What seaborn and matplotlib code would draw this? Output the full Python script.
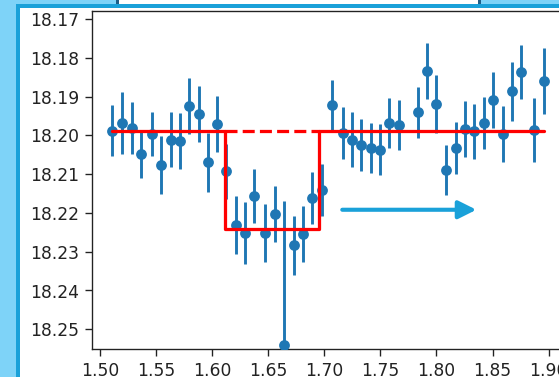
import numpy as np
import pandas as pd
import matplotlib
matplotlib.use("Agg")
import matplotlib.pyplot as plt
from matplotlib.patches import Rectangle
import seaborn as sns

# Photometry of the transit: time, magnitude and 1-sigma uncertainty
time = [1.5110, 1.5199, 1.5283, 1.5366, 1.5464, 1.5547, 1.5633, 1.5716, 1.5797,
        1.5880, 1.5963, 1.6044, 1.6127, 1.6213, 1.6294, 1.6377, 1.6475, 1.6561,
        1.6644, 1.6728, 1.6811, 1.6891, 1.6978, 1.7070, 1.7165, 1.7248, 1.7331,
        1.7415, 1.7498, 1.7581, 1.7667, 1.7831, 1.7914, 1.7997, 1.8081, 1.8173,
        1.8256, 1.8339, 1.8423, 1.8506, 1.8589, 1.8673, 1.8756, 1.8872, 1.8955]
mag = [18.1988, 18.1968, 18.1981, 18.2048, 18.1996, 18.2077, 18.2011, 18.2015, 18.1925,
       18.1944, 18.2070, 18.1970, 18.2093, 18.2231, 18.2252, 18.2157, 18.2252, 18.2204,
       18.2540, 18.2284, 18.2254, 18.2161, 18.2140, 18.1923, 18.1995, 18.2011, 18.2025,
       18.2033, 18.2037, 18.1968, 18.1973, 18.1941, 18.1835, 18.1919, 18.2090, 18.2034,
       18.1983, 18.1990, 18.1968, 18.1908, 18.1996, 18.1887, 18.1836, 18.1987, 18.1861]
mag_err = [0.0065, 0.0080, 0.0067, 0.0062, 0.0057, 0.0075, 0.0070, 0.0072, 0.0072,
           0.0072, 0.0075, 0.0072, 0.0070, 0.0075, 0.0080, 0.0070, 0.0075, 0.0072,
           0.0370, 0.0075, 0.0072, 0.0067, 0.0067, 0.0065, 0.0067, 0.0072, 0.0067,
           0.0065, 0.0065, 0.0065, 0.0065, 0.0065, 0.0072, 0.0075, 0.0065, 0.0067,
           0.0072, 0.0070, 0.0067, 0.0072, 0.0072, 0.0077, 0.0070, 0.0083, 0.0085]

# Box-shaped transit model
ingress = 1.6115
egress = 1.6954
base_mag = 18.1988
dip_mag = 18.2242

xticks = [1.50, 1.55, 1.60, 1.65, 1.70, 1.75, 1.80, 1.85, 1.90]
yticks = [18.17, 18.18, 18.19, 18.20, 18.21, 18.22, 18.23, 18.24, 18.25]

df = pd.DataFrame({"time": time, "mag": mag, "err": mag_err})
model = pd.DataFrame({
    "time": [time[0], ingress, ingress, egress, egress, time[-1]],
    "mag": [base_mag, base_mag, dip_mag, dip_mag, base_mag, base_mag],
})

sns.set_style("ticks")
plt.rcParams["font.family"] = ["DejaVu Sans"]
plt.rcParams["text.color"] = "#222222"
plt.rcParams["xtick.color"] = "#222222"
plt.rcParams["ytick.color"] = "#222222"
plt.rcParams["axes.edgecolor"] = "#222222"

W, H, DPI = 559, 377, 123
fig = plt.figure(figsize=((W + 0.2) / DPI, (H + 0.2) / DPI), dpi=DPI)
fig.patch.set_facecolor("white")


def px_rect(x0, y0, x1, y1, color):
    """Rectangle given in pixel coordinates measured from the top-left."""
    fig.add_artist(Rectangle((x0 / W, 1 - y1 / H), (x1 - x0) / W, (y1 - y0) / H,
                             transform=fig.transFigure, facecolor=color,
                             edgecolor="none", zorder=3))


# Slide frame around the plot
light_blue = "#7ed3f8"
mid_blue = "#1aa1d9"
dark_blue = "#1e5e88"
px_rect(0, 0, 16, H, light_blue)
px_rect(0, 0, 116, 4, light_blue)
px_rect(481, 0, W, 4, light_blue)
px_rect(116, 0, 119, 4, dark_blue)
px_rect(478, 0, 481, 4, dark_blue)
px_rect(16, 4, W, 8, mid_blue)
px_rect(16, 4, 20, H, mid_blue)

ax = fig.add_axes([92 / W, 1 - 349 / H, 473 / W, 338 / H])

ax.errorbar(df["time"], df["mag"], yerr=df["err"], fmt="none",
            ecolor="#1f77b4", elinewidth=1.7, zorder=2)
sns.scatterplot(data=df, x="time", y="mag", ax=ax, color="#1f77b4",
                s=40, linewidth=0, zorder=3, legend=False)
sns.lineplot(data=model, x="time", y="mag", ax=ax, sort=False, estimator=None,
             color="red", linewidth=1.9, zorder=4)
ax.plot([ingress, egress], [base_mag, base_mag], color="red", linestyle="--",
        linewidth=1.9, zorder=4)

ax.annotate("", xy=(1.8356, 18.2192), xytext=(1.7160, 18.2192),
            arrowprops=dict(arrowstyle="-|>", color=mid_blue, lw=2.4,
                            mutation_scale=22, shrinkA=0, shrinkB=0),
            zorder=5)

ax.set_xlim(1.49286, 1.9148)
ax.set_ylim(18.2551, 18.1679)
ax.set_xticks(xticks)
ax.set_xticklabels([f"{t:.2f}" for t in xticks])
ax.set_yticks(yticks)
ax.set_yticklabels([f"{t:.2f}" for t in yticks])
ax.set_xlabel("")
ax.set_ylabel("")
ax.tick_params(labelsize=10, length=4.2, width=0.8)
for s in ax.spines.values():
    s.set_linewidth(0.8)

fig.savefig("out.png", dpi=DPI, facecolor="white")
